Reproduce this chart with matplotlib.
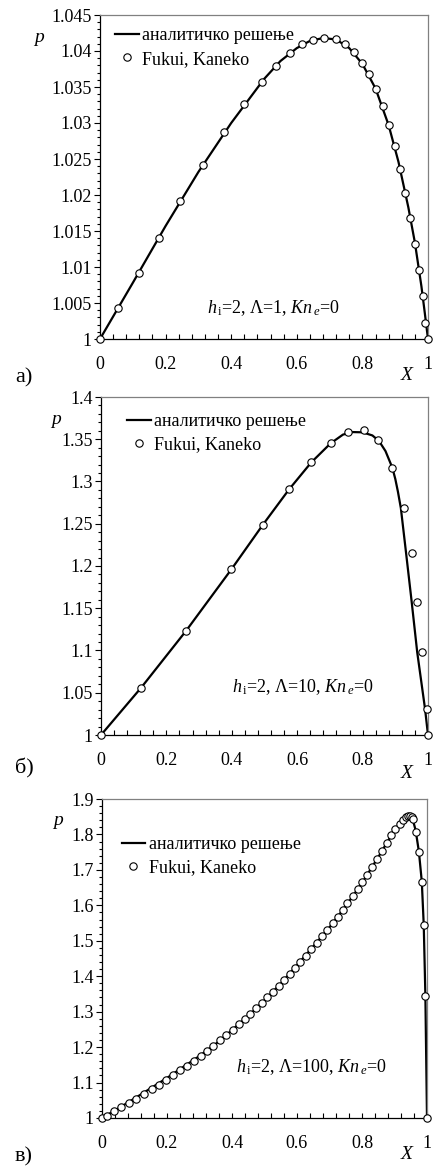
import numpy as np
import matplotlib
matplotlib.use("Agg")
import matplotlib.pyplot as plt
from matplotlib.ticker import MultipleLocator, FuncFormatter

plt.rcParams['font.family'] = ['Liberation Serif', 'DejaVu Serif']
plt.rcParams['mathtext.fontset'] = 'custom'
plt.rcParams['mathtext.rm'] = 'Liberation Serif'
plt.rcParams['mathtext.it'] = 'Liberation Serif:italic'

# ---- а) h_i=2, Lambda=1 ----
xa_pts = [0, 0.055, 0.118, 0.179, 0.245, 0.313, 0.378, 0.438, 0.493, 0.537, 0.578,
          0.616, 0.649, 0.684, 0.719, 0.748, 0.773, 0.798, 0.820, 0.841, 0.862,
          0.880, 0.898, 0.915, 0.931, 0.946, 0.959, 0.972, 0.984, 0.992, 1.0]
pa_pts = [1.0, 1.0043, 1.00916, 1.01397, 1.01915, 1.02419, 1.02872, 1.0326, 1.03575,
          1.03797, 1.03968, 1.04093, 1.04158, 1.04186, 1.04163, 1.04093, 1.03982,
          1.03839, 1.03677, 1.03473, 1.03238, 1.02974, 1.02687, 1.02368, 1.0203,
          1.01679, 1.01318, 1.00953, 1.00592, 1.00222, 1.0]
xa_line = [0, 0.1, 0.2, 0.3, 0.4, 0.5, 0.55, 0.6, 0.64, 0.68, 0.72, 0.76, 0.8,
           0.84, 0.88, 0.91, 0.94, 0.96, 0.98, 0.99, 1.0]
pa_line = [1.0, 1.0078, 1.0157, 1.0232, 1.0300, 1.0361, 1.0386, 1.0404, 1.0414,
           1.0418, 1.0416, 1.0404, 1.0382, 1.0348, 1.0297, 1.0246, 1.0183, 1.0134,
           1.0073, 1.0037, 1.0]

# ---- б) h_i=2, Lambda=10 ----
xb_pts = [0, 0.123, 0.260, 0.399, 0.495, 0.575, 0.643, 0.702, 0.755, 0.803, 0.847,
          0.891, 0.926, 0.950, 0.967, 0.983, 0.996, 1.0]
pb_pts = [1.0, 1.0561, 1.1232, 1.1962, 1.2488, 1.2906, 1.3226, 1.3451, 1.3581,
          1.3605, 1.3487, 1.3163, 1.2681, 1.2152, 1.1576, 1.0979, 1.0304, 1.0]
xb_line = [0, 0.123, 0.260, 0.399, 0.495, 0.575, 0.643, 0.702, 0.74, 0.77, 0.80,
           0.83, 0.85, 0.87, 0.891, 0.90, 0.908, 0.917, 0.933, 0.950, 0.967, 0.991, 1.0]
pb_line = [1.0, 1.0561, 1.1232, 1.1962, 1.2488, 1.2906, 1.3226, 1.3451, 1.3555,
           1.3585, 1.3582, 1.3545, 1.3480, 1.3360, 1.3163, 1.3030, 1.2880, 1.2685,
           1.2152, 1.1579, 1.0980, 1.0308, 1.0]

# ---- в) h_i=2, Lambda=100 ----
xc_pts = [0.0, 0.014, 0.0371, 0.0597, 0.0834, 0.1061, 0.1298, 0.1524, 0.1751, 0.1977,
          0.2173, 0.2400, 0.2606, 0.2832, 0.3038, 0.3244, 0.3429, 0.3635, 0.3821,
          0.4016, 0.4202, 0.4387, 0.4562, 0.4748, 0.4923, 0.5088, 0.5263, 0.5438,
          0.5602, 0.5778, 0.5942, 0.6107, 0.6272, 0.6426, 0.6601, 0.6756, 0.6931,
          0.7096, 0.7250, 0.7405, 0.7549, 0.7714, 0.7868, 0.8012, 0.8167, 0.8311,
          0.8455, 0.8610, 0.8754, 0.8898, 0.9022, 0.9155, 0.9269, 0.9351, 0.9413,
          0.9475, 0.9526, 0.9578, 0.9660, 0.9753, 0.9835, 0.9897, 0.9949, 1.0]
pc_pts = [1.0, 1.0066, 1.0188, 1.0300, 1.0423, 1.0545, 1.0676, 1.0808, 1.0939, 1.1071,
          1.1202, 1.1343, 1.1475, 1.1616, 1.1757, 1.1897, 1.2038, 1.2189, 1.2339,
          1.2489, 1.2639, 1.2789, 1.2940, 1.3090, 1.3240, 1.3400, 1.3560, 1.3729,
          1.3898, 1.4067, 1.4235, 1.4414, 1.4583, 1.4761, 1.4949, 1.5127, 1.5306,
          1.5493, 1.5672, 1.5869, 1.6057, 1.6254, 1.6451, 1.6648, 1.6864, 1.7071,
          1.7296, 1.7521, 1.7747, 1.7972, 1.8150, 1.8300, 1.8413, 1.8479, 1.8516,
          1.8516, 1.8488, 1.8422, 1.8056, 1.7511, 1.6667, 1.5437, 1.3456, 1.0]
xc_line = [0, 0.05, 0.1, 0.15, 0.2, 0.25, 0.3, 0.35, 0.4, 0.45, 0.5, 0.55, 0.6, 0.65,
           0.7, 0.75, 0.8, 0.85, 0.88, 0.9, 0.92, 0.935, 0.945, 0.955, 0.965, 0.975,
           0.984, 0.99, 0.995, 1.0]
pc_line = [1.0, 1.027, 1.055, 1.084, 1.113, 1.144, 1.175, 1.209, 1.248, 1.288, 1.332,
           1.379, 1.431, 1.484, 1.538, 1.598, 1.663, 1.736, 1.782, 1.812, 1.835, 1.848,
           1.852, 1.846, 1.812, 1.752, 1.667, 1.544, 1.346, 1.0]

panels = [
    dict(xp=xa_pts, pp=pa_pts, xl=xa_line, pl=pa_line, ylim=(1.0, 1.045), major=0.005,
         minor=0.001, rect=[100, 15, 428, 339], note=r"$h_{\,\mathrm{i}}$=2, Λ=1, $Kn_{\,e}$=0",
         note_xy=(0.53, 1.0043), tag="а)", tag_y=378, p_x=-0.186, leg=(0.046, 0.962)),
    dict(xp=xb_pts, pp=pb_pts, xl=xb_line, pl=pb_line, ylim=(1.0, 1.4), major=0.05,
         minor=0.01, rect=[101, 397, 428, 735], note=r"$h_{\,\mathrm{i}}$=2, Λ=10, $Kn_{\,e}$=0",
         note_xy=(0.618, 1.057), tag="б)", tag_y=768, p_x=-0.138, leg=(0.08, 0.952)),
    dict(xp=xc_pts, pp=pc_pts, xl=xc_line, pl=pc_line, ylim=(1.0, 1.9), major=0.1,
         minor=0.02, rect=[102, 799, 427, 1118], note=r"$h_{\,\mathrm{i}}$=2, Λ=100, $Kn_{\,e}$=0",
         note_xy=(0.643, 1.144), tag="в)", tag_y=1157, p_x=-0.135, leg=(0.06, 0.884)),
]

W, H = 433, 1171
fig = plt.figure(figsize=(W / 100, H / 100), dpi=100)


def fmt(v, pos):
    s = f"{v:.3f}".rstrip('0').rstrip('.')
    return s


for P in panels:
    l, t, r, b = P['rect']
    ax = fig.add_axes([l / W, (H - b) / H, (r - l) / W, (b - t) / H])
    ax.plot(P['xl'], P['pl'], color='black', lw=1.6, label='аналитичко решење',
            zorder=2, clip_on=False)
    ax.plot(P['xp'], P['pp'], 'o', ms=5.3, mfc='white', mec='black', mew=0.8,
            label='Fukui, Kaneko', zorder=3, clip_on=False)
    ax.set_xlim(0, 1)
    ax.set_ylim(*P['ylim'])
    ax.xaxis.set_major_locator(MultipleLocator(0.2))
    ax.xaxis.set_minor_locator(MultipleLocator(0.04))
    ax.yaxis.set_major_locator(MultipleLocator(P['major']))
    ax.yaxis.set_minor_locator(MultipleLocator(P['minor']))
    ax.xaxis.set_major_formatter(FuncFormatter(fmt))
    ax.yaxis.set_major_formatter(FuncFormatter(fmt))
    ax.tick_params(axis='x', which='both', direction='in', length=3.5, width=0.8,
                   labelsize=13, pad=12, top=False)
    ax.tick_params(axis='y', which='major', direction='out', length=4, width=0.8,
                   labelsize=13, pad=2, right=False)
    ax.tick_params(axis='y', which='minor', direction='out', length=2.2, width=0.8,
                   right=False)
    for s in ('left', 'bottom'):
        ax.spines[s].set_color('black')
        ax.spines[s].set_linewidth(0.9)
    for s in ('top', 'right'):
        ax.spines[s].set_color('#808080')
        ax.spines[s].set_linewidth(0.9)

    ax.legend(loc='upper left', bbox_to_anchor=P['leg'], frameon=False, fontsize=13,
              handlelength=1.3, handletextpad=0.2, borderpad=0, borderaxespad=0,
              labelspacing=0.35)
    ax.text(P['note_xy'][0], P['note_xy'][1], P['note'], fontsize=13,
            ha='center', va='center')
    ax.text(P['p_x'], 0.932, 'p', transform=ax.transAxes, fontsize=14,
            style='italic', ha='center', va='center')
    ax.text(0.936, -0.114, 'X', transform=ax.transAxes, fontsize=14,
            style='italic', ha='center', va='center')
    fig.text(24 / W, 1 - P['tag_y'] / H, P['tag'], fontsize=16, ha='center', va='center')

fig.savefig('out.png', dpi=100)
